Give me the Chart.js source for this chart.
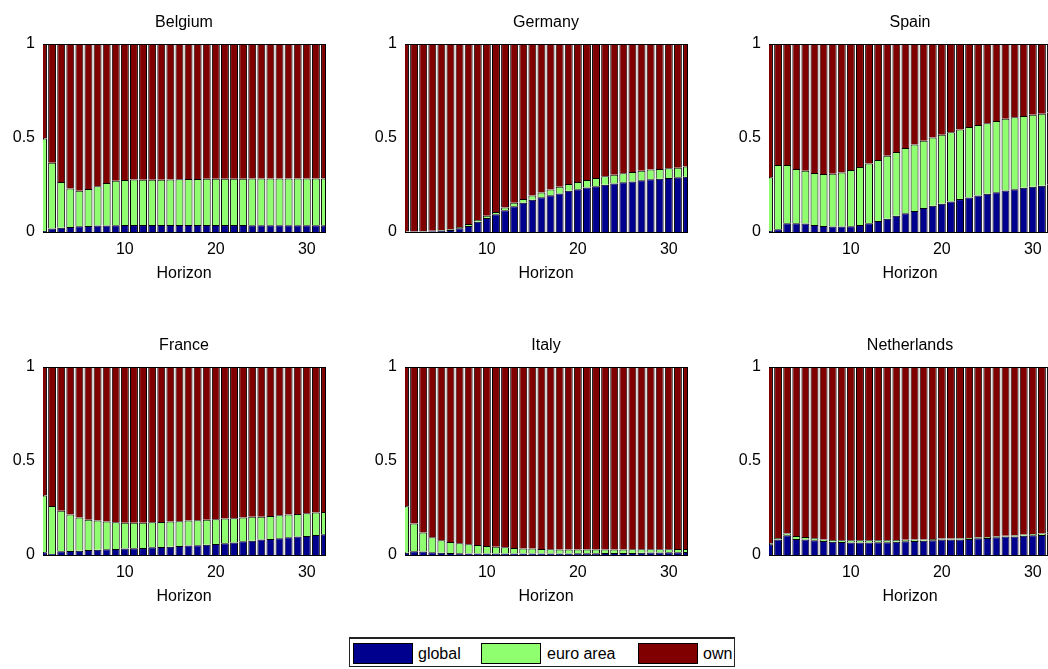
<!DOCTYPE html>
<html>
<head>
<meta charset="utf-8">
<title>Variance decomposition by horizon</title>
<script src="https://cdn.jsdelivr.net/npm/chart.js@4/dist/chart.umd.min.js"></script>
<style>
  html, body { margin: 0; padding: 0; background: #fff; }
  body { width: 1048px; height: 669px; overflow: hidden; position: relative; font-family: "Liberation Sans", Arial, sans-serif; }
  canvas.panel { position: absolute; }
  #legend {
    position: absolute; left: 349px; top: 637px; width: 386px; height: 30px;
    border: 1px solid #222; border-top-width: 2px; box-sizing: border-box; background: #fff;
    font-size: 16px; color: #000;
  }
  #legend .sw { position: absolute; top: 4px; width: 60px; height: 21px; box-sizing: border-box; border: 1px solid #000; }
  #legend .lb { position: absolute; top: 4px; line-height: 21px; white-space: nowrap; }
</style>
</head>
<body>

<canvas class="panel" id="c-be" width="368" height="290" style="left:0px;top:0px"></canvas>
<canvas class="panel" id="c-de" width="368" height="290" style="left:362px;top:0px"></canvas>
<canvas class="panel" id="c-es" width="368" height="290" style="left:726px;top:0px"></canvas>
<canvas class="panel" id="c-fr" width="368" height="290" style="left:0px;top:323px"></canvas>
<canvas class="panel" id="c-it" width="368" height="290" style="left:362px;top:323px"></canvas>
<canvas class="panel" id="c-nl" width="368" height="290" style="left:726px;top:323px"></canvas>

<div id="legend">
  <div class="sw" style="left:3px;background:#00008F"></div><div class="lb" style="left:68px">global</div>
  <div class="sw" style="left:131px;background:#8FFF70"></div><div class="lb" style="left:197px">euro area</div>
  <div class="sw" style="left:288px;background:#800000"></div><div class="lb" style="left:353px">own</div>
</div>

<script>
// Forecast horizons (quarters)
const horizons = [1,2,3,4,5,6,7,8,9,10,11,12,13,14,15,16,17,18,19,20,21,22,23,24,25,26,27,28,29,30,31,32];
const xTickValues = [10, 20, 30];
const yTickValues = [0, 0.5, 1];
const yTickLabels = ['0', '0.5', '1'];

const seriesNames = ['global', 'euro area', 'own'];
const seriesColors = ['#00008F', '#8FFF70', '#800000'];

// Shares of forecast error variance by source of shock
const belgiumGlobal = [0.005,0.018,0.023,0.027,0.030,0.032,0.034,0.035,0.036,0.037,0.037,0.037,0.037,0.037,0.037,0.037,0.037,0.037,0.037,0.037,0.037,0.037,0.037,0.036,0.036,0.036,0.036,0.036,0.036,0.036,0.036,0.036];
const belgiumEuro   = [0.492,0.350,0.243,0.204,0.190,0.197,0.209,0.226,0.236,0.240,0.242,0.241,0.241,0.241,0.242,0.244,0.245,0.245,0.246,0.246,0.246,0.246,0.246,0.248,0.248,0.248,0.248,0.248,0.248,0.248,0.249,0.249];
const belgiumOwn    = [0.503,0.632,0.734,0.769,0.780,0.771,0.757,0.739,0.728,0.723,0.721,0.722,0.722,0.722,0.721,0.719,0.718,0.718,0.717,0.717,0.717,0.717,0.717,0.716,0.716,0.716,0.716,0.716,0.716,0.716,0.715,0.715];

const germanyGlobal = [0.001,0.002,0.003,0.004,0.006,0.010,0.020,0.032,0.055,0.075,0.094,0.116,0.137,0.155,0.171,0.185,0.196,0.205,0.219,0.228,0.237,0.244,0.251,0.258,0.264,0.269,0.275,0.280,0.283,0.287,0.291,0.294];
const germanyEuro   = [0.001,0.001,0.002,0.003,0.004,0.005,0.006,0.010,0.009,0.011,0.013,0.014,0.018,0.020,0.023,0.025,0.030,0.036,0.036,0.038,0.039,0.043,0.045,0.047,0.048,0.050,0.051,0.052,0.052,0.052,0.051,0.054];
const germanyOwn    = [0.998,0.997,0.995,0.993,0.990,0.985,0.974,0.958,0.936,0.914,0.893,0.870,0.845,0.825,0.806,0.790,0.774,0.759,0.745,0.734,0.724,0.713,0.704,0.695,0.688,0.681,0.674,0.668,0.665,0.661,0.658,0.652];

const spainGlobal = [0.005,0.014,0.046,0.046,0.045,0.037,0.032,0.029,0.029,0.030,0.037,0.046,0.059,0.071,0.086,0.100,0.112,0.127,0.139,0.150,0.162,0.175,0.184,0.194,0.203,0.212,0.221,0.228,0.235,0.241,0.246,0.251];
const spainEuro   = [0.286,0.343,0.311,0.289,0.281,0.277,0.276,0.281,0.288,0.300,0.309,0.318,0.324,0.334,0.340,0.347,0.353,0.358,0.364,0.367,0.369,0.370,0.374,0.375,0.376,0.378,0.381,0.382,0.382,0.383,0.383,0.384];
const spainOwn    = [0.709,0.643,0.643,0.665,0.674,0.686,0.692,0.690,0.683,0.670,0.654,0.636,0.617,0.595,0.574,0.553,0.535,0.515,0.497,0.483,0.469,0.455,0.442,0.431,0.421,0.410,0.398,0.390,0.383,0.376,0.371,0.365];

const franceGlobal = [0.014,0.005,0.020,0.021,0.023,0.027,0.028,0.030,0.032,0.034,0.036,0.037,0.041,0.043,0.044,0.048,0.050,0.052,0.055,0.059,0.062,0.066,0.073,0.076,0.082,0.085,0.089,0.094,0.098,0.101,0.107,0.110];
const franceEuro   = [0.302,0.256,0.216,0.194,0.176,0.161,0.155,0.148,0.142,0.138,0.136,0.135,0.133,0.133,0.134,0.131,0.133,0.133,0.133,0.131,0.132,0.129,0.126,0.127,0.122,0.123,0.122,0.121,0.120,0.121,0.119,0.119];
const franceOwn    = [0.684,0.739,0.764,0.785,0.801,0.812,0.817,0.822,0.826,0.828,0.828,0.828,0.826,0.824,0.822,0.821,0.817,0.815,0.812,0.810,0.806,0.805,0.801,0.797,0.796,0.792,0.789,0.785,0.782,0.778,0.774,0.771];

const italyGlobal = [0.012,0.020,0.018,0.014,0.012,0.010,0.009,0.008,0.008,0.008,0.008,0.008,0.008,0.008,0.008,0.008,0.008,0.008,0.008,0.009,0.009,0.009,0.010,0.010,0.011,0.011,0.012,0.013,0.013,0.014,0.015,0.016];
const italyEuro   = [0.247,0.148,0.102,0.080,0.066,0.059,0.053,0.049,0.045,0.040,0.036,0.033,0.029,0.027,0.026,0.024,0.022,0.021,0.021,0.020,0.020,0.020,0.019,0.019,0.018,0.019,0.018,0.017,0.018,0.017,0.017,0.016];
const italyOwn    = [0.741,0.832,0.880,0.906,0.922,0.931,0.938,0.943,0.947,0.952,0.956,0.959,0.963,0.965,0.966,0.968,0.970,0.971,0.971,0.971,0.971,0.971,0.971,0.971,0.971,0.970,0.970,0.970,0.969,0.969,0.968,0.968];

const netherlandsGlobal = [0.057,0.083,0.105,0.085,0.083,0.078,0.074,0.071,0.069,0.067,0.067,0.067,0.068,0.068,0.071,0.073,0.074,0.076,0.078,0.082,0.082,0.083,0.085,0.089,0.090,0.094,0.098,0.099,0.103,0.105,0.106,0.108];
const netherlandsEuro   = [0.005,0.007,0.010,0.016,0.013,0.011,0.009,0.009,0.010,0.011,0.011,0.011,0.010,0.011,0.009,0.008,0.008,0.007,0.007,0.006,0.006,0.006,0.006,0.005,0.006,0.006,0.005,0.006,0.006,0.007,0.009,0.011];
const netherlandsOwn    = [0.938,0.910,0.885,0.899,0.904,0.911,0.917,0.920,0.921,0.922,0.922,0.922,0.922,0.921,0.920,0.919,0.918,0.917,0.915,0.912,0.912,0.911,0.909,0.906,0.904,0.900,0.897,0.895,0.891,0.888,0.885,0.881];

const FONT = { family: '"Liberation Sans", Arial, Helvetica, sans-serif', size: 16 };

function panel(canvasId, country, globalVals, euroVals, ownVals) {
  const values = [globalVals, euroVals, ownVals];
  const datasets = values.map((v, i) => ({
    label: seriesNames[i],
    data: v,
    backgroundColor: seriesColors[i],
    borderColor: '#000',
    borderWidth: { top: 1, left: 1, right: 1, bottom: 0 },
    borderSkipped: false,
    categoryPercentage: 1.0,
    barPercentage: 0.87,
    clip: 0
  }));

  const boxLine = { display: true, color: '#000', width: 1 };

  new Chart(document.getElementById(canvasId), {
    type: 'bar',
    data: { labels: horizons, datasets },
    options: {
      responsive: false,
      animation: false,
      devicePixelRatio: 1,
      layout: { padding: 0 },
      plugins: { legend: { display: false }, tooltip: { enabled: false }, title: { display: false } },
      scales: {
        x: {
          type: 'linear', position: 'bottom', min: 1, max: 32, offset: false, stacked: true, z: 1,
          grid: { display: false, drawTicks: false, offset: false },
          border: boxLine,
          afterBuildTicks: s => { s.ticks = xTickValues.map(v => ({ value: v })); },
          ticks: { color: '#000', font: FONT, padding: 8, maxRotation: 0, autoSkip: false },
          title: { display: true, text: 'Horizon', color: '#000', font: FONT, padding: { top: 0, bottom: 7 } },
          afterFit: s => { s.height = 58; }
        },
        xTop: {
          type: 'linear', position: 'top', min: 1, max: 32, offset: false, z: 1,
          grid: { display: false, drawTicks: false, offset: false },
          border: boxLine,
          ticks: { display: false },
          title: { display: true, text: country, color: '#000', font: FONT, padding: { top: 13, bottom: 0 } },
          afterFit: s => { s.height = 44; }
        },
        y: {
          type: 'linear', position: 'left', min: 0, max: 1, stacked: true, z: 1,
          grid: { display: false, drawTicks: false },
          border: boxLine,
          afterBuildTicks: s => { s.ticks = yTickValues.map(v => ({ value: v })); },
          ticks: {
            color: '#000', font: FONT, padding: 8,
            callback: (v) => yTickLabels[yTickValues.indexOf(v)]
          },
          afterFit: s => { s.width = 43; }
        },
        yRight: {
          type: 'linear', position: 'right', min: 0, max: 1, z: 1,
          grid: { display: false, drawTicks: false },
          border: boxLine,
          ticks: { display: false },
          afterFit: s => { s.width = 43; }
        }
      }
    }
  });
}

panel('c-be', 'Belgium', belgiumGlobal, belgiumEuro, belgiumOwn);
panel('c-de', 'Germany', germanyGlobal, germanyEuro, germanyOwn);
panel('c-es', 'Spain', spainGlobal, spainEuro, spainOwn);
panel('c-fr', 'France', franceGlobal, franceEuro, franceOwn);
panel('c-it', 'Italy', italyGlobal, italyEuro, italyOwn);
panel('c-nl', 'Netherlands', netherlandsGlobal, netherlandsEuro, netherlandsOwn);
</script>
</body>
</html>
